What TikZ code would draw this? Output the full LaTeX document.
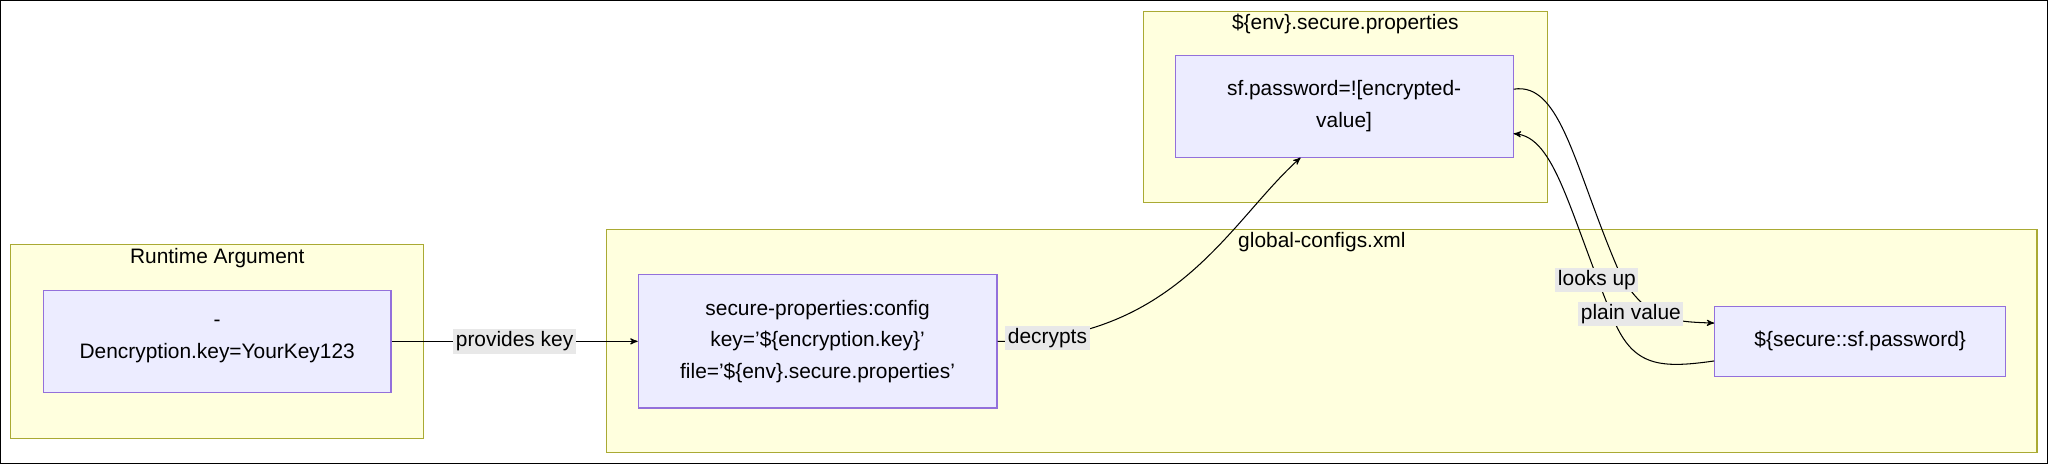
\documentclass[tikz,border=0pt]{standalone}
\usepackage{fontspec}
\setmainfont{Liberation Sans}
\usetikzlibrary{arrows}
\definecolor{clfill}{HTML}{FFFFDE}
\definecolor{cldraw}{HTML}{AAAA33}
\definecolor{ndfill}{HTML}{ECECFF}
\definecolor{nddraw}{HTML}{9370DB}
\tikzset{
  cluster/.style={draw=cldraw,fill=clfill,inner sep=0pt},
  box/.style={draw=nddraw,fill=ndfill,align=center,inner sep=0pt,font=\large},
  title/.style={anchor=north,font=\large,inner sep=2pt},
  lbl/.style={fill=black!9,inner sep=1.5pt,font=\large}
}
\begin{document}
\begin{tikzpicture}[x=0.75pt,y=-0.75pt,->,>=stealth',semithick]
            \draw[-,thin](0,0) rectangle (1567,354);
            \node[cluster,minimum width=237pt,minimum height=111pt](RuntimeCl)at(166,261){};
            \node[cluster,minimum width=821pt,minimum height=128pt](GlobalCl)at(1011.5,260.5){};
            \node[cluster,minimum width=232pt,minimum height=110pt](PropsCl)at(1029.5,81.5){};
            \node[title](RuntimeT)at(RuntimeCl.north){Runtime Argument};
            \node[title](GlobalT)at(GlobalCl.north){global-configs.xml};
            \node[title](PropsT)at(PropsCl.north){\$\{env\}.secure.properties};
            \node[box,minimum width=199.5pt,minimum height=58.5pt](Arg)at(166,261){-\\[4pt]Dencryption.key=YourKey123};
            \node[box,minimum width=206pt,minimum height=76.5pt](Config)at(625.5,261){secure-properties:config\\[4pt]key='\$\{encryption.key\}'\\[4pt]file='\$\{env\}.secure.properties'};
            \node[box,minimum width=194pt,minimum height=58.5pt](Pass)at(1028.5,81){sf.password=![encrypted-\\[4pt]value]};
            \node[box,minimum width=167pt,minimum height=40.5pt](Ref)at(1423.5,261){\$\{secure::sf.password\}};
            \draw(Arg) -- node[lbl]{provides key} (Config);
            \draw(Config.east) .. controls (900,261) and (940,170) .. node[lbl,pos=0.1]{decrypts} ([xshift=-25pt]Pass.south);
            % lookup and answer
            \draw(Ref.west|-1312,276) .. controls (1270,282) and (1250,280) .. (1235,245) .. controls (1200,160) and (1190,105) .. (Pass.east|-1158,102);
            \draw(Pass.east|-1158,68) .. controls (1195,62) and (1205,130) .. (1240,210) .. controls (1260,245) and (1280,246) .. (Ref.west|-1312,247);
            \node[lbl](LooksUp)at(1222,214){looks up};
            \node[lbl](PlainVal)at(1248,240){plain value};
        \end{tikzpicture}
\end{document}
